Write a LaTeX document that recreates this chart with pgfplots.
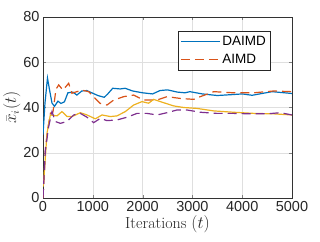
\documentclass[border=0pt]{standalone}
\usepackage{pgfplots}
\pgfplotsset{compat=1.18}
\usepackage{fontspec}
\newfontfamily\lsans{Liberation Sans}
\definecolor{mblue}{rgb}{0,0.447,0.741}
\definecolor{morange}{rgb}{0.85,0.325,0.098}
\definecolor{myellow}{rgb}{0.929,0.694,0.125}
\definecolor{mpurple}{rgb}{0.494,0.184,0.556}
\begin{document}
\begin{tikzpicture}[x=1pt,y=1pt]
\useasboundingbox (-43,-43) rectangle (277,198);
\begin{axis}[
  at={(0,0)}, anchor=south west,
  width=249pt, height=181pt, scale only axis,
  xmin=0, xmax=5000, ymin=0, ymax=80,
  xtick={0,1000,2000,3000,4000,5000},
  ytick={0,20,40,60,80},
  scaled x ticks=false,
  xticklabel style={/pgf/number format/1000 sep={}},
  /pgf/number format/assume math mode=true,
  tick label style={font=\lsans\fontsize{14.5}{14.5}\selectfont, text=black!85},
  grid=major,
  major grid style={gray!25, line width=0.5pt},
  tick align=inside,
  major tick length=3pt,
  axis line style={black!80, line width=0.6pt},
  xlabel={Iterations $(t)$},
  ylabel={$\bar{x}_i(t)$},
  label style={font=\fontsize{16}{16}\selectfont, text=black!85},
  xlabel style={yshift=3pt},
  ylabel style={yshift=-4pt},
  legend style={at={(0.542,0.923)}, anchor=north west,
    font=\lsans\fontsize{13.5}{13.5}\selectfont, draw=black!85, line width=0.6pt,
    inner xsep=2pt, inner ysep=3pt, row sep=3pt,
    nodes={inner xsep=2pt}},
  legend cell align=left,
  legend image code/.code={\draw[#1] (4pt,0pt) -- (43pt,0pt);},
]
\addplot[mblue, line width=1.2pt] coordinates {
(0,28) (40,42) (90,53) (130,48) (180,42) (230,40.5) (300,42.8) (360,41.8) (430,42.5) (500,46.5) (600,46.8) (680,45.5) (780,47.3) (880,47.5) (1000,46.3) (1100,45.3) (1230,44.5) (1300,46) (1400,48.5) (1550,48.2) (1650,48.5) (1800,47.3) (2000,46.5) (2200,46) (2350,47.5) (2500,47.8) (2700,46.8) (2850,46.5) (2950,47) (3200,46) (3500,45.3) (3800,45.7) (4000,46) (4200,45.4) (4400,46.2) (4600,47) (4800,46.6) (5000,46.2)
};
\addlegendentry{DAIMD}
\addplot[morange, line width=1.2pt, dash pattern=on 9pt off 5pt] coordinates {
(0,0) (50,22) (92,30) (150,37.5) (200,38) (260,48) (315,50) (400,47.7) (515,50.7) (580,46.3) (680,47) (780,47.7) (917,47) (1050,44) (1150,41.8) (1285,41.1) (1420,43.3) (1620,44.8) (1820,45.5) (2020,43.3) (2290,43.3) (2490,44.8) (2760,44) (3025,43.6) (3160,44.8) (3430,47) (3830,46.5) (4230,46.5) (4630,47.3) (5000,47)
};
\addlegendentry{AIMD}
\addplot[myellow, line width=1.2pt, forget plot] coordinates {
(0,5) (13,7) (80,28.6) (147,36.7) (281,36.3) (381,38.2) (482,36) (582,36) (750,37.7) (884,36.7) (1050,35) (1185,36.7) (1352,36) (1486,36.3) (1653,38.2) (1820,41.1) (1988,42.6) (2121,41.9) (2222,43.6) (2356,42.6) (2624,40.7) (2825,40) (3092,39.6) (3427,38.5) (3829,37.9) (4230,37.4) (4632,37.2) (5000,36.7)
};
\addplot[mpurple, line width=1.2pt, dash pattern=on 9pt off 5pt, forget plot] coordinates {
(0,0) (47,21) (114,31.6) (181,38.2) (248,33.8) (348,33) (482,33.8) (616,36.7) (750,37.4) (884,35.7) (1017,33.3) (1151,35.2) (1285,34.2) (1486,34.5) (1687,35.7) (1888,37.4) (2088,37.4) (2289,36.7) (2490,37.7) (2690,38.9) (2892,38.9) (3160,37.9) (3494,37.4) (3829,37.4) (4163,37.2) (4498,37.2) (4766,37.7) (5000,36.7)
};
\end{axis}
\end{tikzpicture}
\end{document}
